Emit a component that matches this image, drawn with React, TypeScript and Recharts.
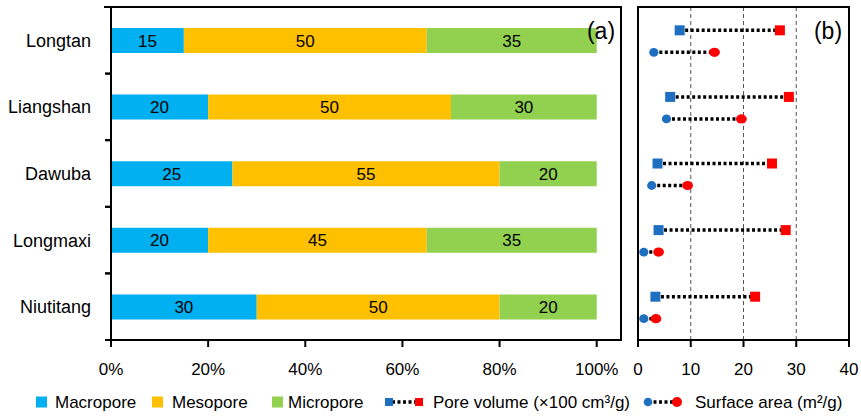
import React from 'react';
import {
  BarChart, Bar, XAxis, YAxis, LabelList,
  ScatterChart, Scatter, ReferenceLine,
} from 'recharts';

// ---- data ----
const samples = ['Longtan', 'Liangshan', 'Dawuba', 'Longmaxi', 'Niutitang'];
const macropore = [15, 20, 25, 20, 30];
const mesopore = [50, 50, 55, 45, 50];
const micropore = [35, 30, 20, 35, 20];

const poreVolumeLow = [7.9, 6.1, 3.7, 3.9, 3.3];
const poreVolumeHigh = [26.9, 28.6, 25.4, 28.0, 22.2];
const surfaceAreaLow = [3.0, 5.4, 2.6, 1.1, 1.1];
const surfaceAreaHigh = [14.5, 19.6, 9.4, 3.9, 3.4];

const pctTicks = [0, 20, 40, 60, 80, 100];
const bTicks = [0, 10, 20, 30, 40];
const bGrid = [10, 20, 30];

// ---- style / layout ----
const FONT = '"Liberation Sans", Arial, Helvetica, sans-serif';
const C_MACRO = '#00B0F0';
const C_MESO = '#FFC000';
const C_MICRO = '#92D050';
const BLUE = '#1F6FC0';
const RED = '#FF0000';
const H = 418;
const PLOT_TOP = 7;
const PLOT_BOTTOM = 340;
const BAND = (PLOT_BOTTOM - PLOT_TOP) / samples.length;
const PV_OFF = 0.35;
const SA_OFF = 0.68;
const A_LEFT = 111;
const A_RIGHT = 621;
const B_LEFT = 638;
const B_RIGHT = 849;

const barData = samples.map((name, i) => ({
  name,
  macro: macropore[i],
  meso: mesopore[i],
  micro: micropore[i],
}));

const lineSeries = samples.flatMap((name, i) => [
  {
    key: `pv-${name}`,
    kind: 'pv',
    data: [
      { x: poreVolumeLow[i], y: i + PV_OFF, end: 'low' },
      { x: poreVolumeHigh[i], y: i + PV_OFF, end: 'high' },
    ],
  },
  {
    key: `sa-${name}`,
    kind: 'sa',
    data: [
      { x: surfaceAreaLow[i], y: i + SA_OFF, end: 'low' },
      { x: surfaceAreaHigh[i], y: i + SA_OFF, end: 'high' },
    ],
  },
]);

const axisStroke = { stroke: '#000', strokeWidth: 2 };
const tickText = { fill: '#000', fontSize: 17, fontFamily: FONT };

const CatTick = (props: any) => {
  const { x, y, payload } = props;
  return (
    <g>
      <text x={x} y={y} dy="0.36em" textAnchor="end" fontSize={18} fill="#000" fontFamily={FONT}>
        {payload.value}
      </text>
      <line x1={x + 14} x2={x + 21} y1={y - BAND / 2} y2={y - BAND / 2} stroke="#000" strokeWidth={2} />
      <line x1={x + 14} x2={x + 21} y1={y + BAND / 2} y2={y + BAND / 2} stroke="#000" strokeWidth={2} />
    </g>
  );
};

const makeShape = (kind: string) => (props: any) => {
  const { cx, cy, payload } = props;
  const color = payload.end === 'low' ? BLUE : RED;
  if (kind === 'pv') {
    return <rect x={cx - 5} y={cy - 5} width={10} height={10} fill={color} />;
  }
  return payload.end === 'low'
    ? <ellipse cx={cx} cy={cy} rx={4.6} ry={4.4} fill={color} />
    : <ellipse cx={cx} cy={cy} rx={5.4} ry={4.6} fill={color} />;
};

const dotted = { stroke: '#000', strokeWidth: 3.5, strokeDasharray: '3 2.5' };

export default function App() {
  return (
    <div style={{ position: 'absolute', left: 0, top: 0, width: 861, height: H, background: '#fff', fontFamily: FONT }}>
      <div style={{ position: 'absolute', left: 0, top: 0 }}>
        <BarChart
          width={640}
          height={H}
          data={barData}
          layout="vertical"
          margin={{ top: PLOT_TOP, right: 640 - A_RIGHT, bottom: 48, left: 0 }}
        >
          <XAxis
            type="number"
            domain={[0, 105]}
            ticks={pctTicks}
            tickFormatter={(v: number) => `${v}%`}
            height={30}
            tickSize={7}
            tickMargin={16}
            axisLine={axisStroke}
            tickLine={axisStroke}
            tick={tickText}
          />
          <YAxis
            type="category"
            dataKey="name"
            width={A_LEFT}
            tickSize={6}
            tickMargin={14}
            tickLine={false}
            axisLine={axisStroke}
            tick={<CatTick />}
          />
          <Bar dataKey="macro" stackId="a" fill={C_MACRO} barSize={25} isAnimationActive={false}>
            <LabelList dataKey="macro" position="center" fill="#000" fontSize={17} fontFamily={FONT} />
          </Bar>
          <Bar dataKey="meso" stackId="a" fill={C_MESO} barSize={25} isAnimationActive={false}>
            <LabelList dataKey="meso" position="center" fill="#000" fontSize={17} fontFamily={FONT} />
          </Bar>
          <Bar dataKey="micro" stackId="a" fill={C_MICRO} barSize={25} isAnimationActive={false}>
            <LabelList dataKey="micro" position="center" fill="#000" fontSize={17} fontFamily={FONT} />
          </Bar>
        </BarChart>
      </div>

      <div style={{ position: 'absolute', left: 600, top: 0 }}>
        <ScatterChart width={261} height={H} margin={{ top: PLOT_TOP, right: 861 - B_RIGHT, bottom: 48, left: B_LEFT - 600 }}>
          <XAxis
            type="number"
            dataKey="x"
            domain={[0, 40]}
            ticks={bTicks}
            height={30}
            tickSize={7}
            tickMargin={16}
            axisLine={axisStroke}
            tickLine={axisStroke}
            tick={tickText}
          />
          <YAxis
            type="number"
            dataKey="y"
            domain={[0, 5]}
            reversed
            width={0}
            tick={false}
            tickLine={false}
            axisLine={axisStroke}
          />
          {bGrid.map((v) => (
            <ReferenceLine key={v} x={v} stroke="#555" strokeWidth={1} strokeDasharray="4 3" />
          ))}
          {lineSeries.map((s) => (
            <Scatter
              key={s.key}
              data={s.data}
              line={dotted}
              lineJointType="linear"
              shape={makeShape(s.kind)}
              isAnimationActive={false}
            />
          ))}
        </ScatterChart>
      </div>

      <svg width={861} height={H} style={{ position: 'absolute', left: 0, top: 0, pointerEvents: 'none' }}>
        <rect x={A_LEFT} y={PLOT_TOP} width={A_RIGHT - A_LEFT} height={PLOT_BOTTOM - PLOT_TOP} fill="none" stroke="#000" strokeWidth={2} />
        <rect x={B_LEFT} y={PLOT_TOP} width={B_RIGHT - B_LEFT} height={PLOT_BOTTOM - PLOT_TOP} fill="none" stroke="#000" strokeWidth={2} />
        <line x1={A_LEFT - 7} x2={A_LEFT} y1={PLOT_TOP} y2={PLOT_TOP} stroke="#000" strokeWidth={2} />

        <text x={601} y={39} textAnchor="middle" fontSize={23} fill="#000" fontFamily={FONT}>(a)</text>
        <text x={828} y={39} textAnchor="middle" fontSize={23} fill="#000" fontFamily={FONT}>(b)</text>

        <g fontFamily={FONT} fontSize={17} fill="#000">
          <rect x={36} y={396.5} width={11} height={11} fill={C_MACRO} />
          <text x={55} y={408}>Macropore</text>
          <rect x={152} y={396.5} width={11} height={11} fill={C_MESO} />
          <text x={172} y={408}>Mesopore</text>
          <rect x={272} y={396.5} width={11} height={11} fill={C_MICRO} />
          <text x={288} y={408}>Micropore</text>

          <line x1={392} x2={416} y1={402} y2={402} {...dotted} />
          <rect x={385} y={398} width={8} height={8} fill={BLUE} />
          <rect x={415} y={398} width={8} height={8} fill={RED} />
          <text x={433} y={408}>Pore volume (×100 cm³/g)</text>

          <line x1={648} x2={677} y1={402} y2={402} {...dotted} />
          <circle cx={648} cy={402} r={4.3} fill={BLUE} />
          <circle cx={677} cy={402} r={5} fill={RED} />
          <text x={695} y={408}>Surface area (m²/g)</text>
        </g>
      </svg>
    </div>
  );
}
